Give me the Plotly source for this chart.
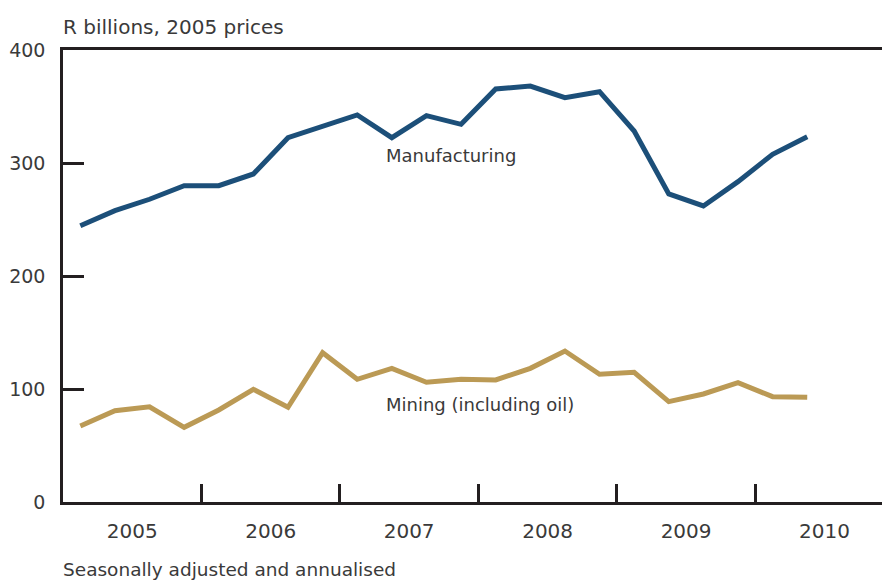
import plotly.graph_objects as go

quarters = ["2005Q1","2005Q2","2005Q3","2005Q4","2006Q1","2006Q2","2006Q3","2006Q4",
            "2007Q1","2007Q2","2007Q3","2007Q4","2008Q1","2008Q2","2008Q3","2008Q4",
            "2009Q1","2009Q2","2009Q3","2009Q4","2010Q1","2010Q2"]
manufacturing = [244.5, 257.8, 267.9, 279.9, 279.9, 290.3, 322.4, 332.2, 342.5, 322.4, 341.9, 334.2,
                 365.5, 368.1, 357.8, 363.1, 328.3, 272.6, 262.0, 283.5, 307.7, 323.3]
mining = [67.3, 80.8, 84.3, 66.1, 81.4, 99.7, 83.8, 132.1, 108.6, 118.3, 105.9, 108.6,
          108.0, 118.3, 133.6, 113.0, 114.8, 88.8, 95.6, 105.6, 93.2, 92.6]
years = ["2005", "2006", "2007", "2008", "2009", "2010"]
y_ticks = [0, 100, 200, 300, 400]

x = list(range(len(quarters)))
year_centers = [4 * i + 1.5 for i in range(len(years))]
year_bounds = [4 * i - 0.5 for i in range(1, len(years))]

FONT = "DejaVu Sans, Verdana, sans-serif"
TXT = "#3a3a3a"
AX = "#231f20"

fig = go.Figure()
fig.add_trace(go.Scatter(x=x, y=manufacturing, mode="lines", name="Manufacturing",
                         line=dict(color="#1c4f79", width=5), showlegend=False))
fig.add_trace(go.Scatter(x=x, y=mining, mode="lines", name="Mining (including oil)",
                         line=dict(color="#bb9a55", width=5), showlegend=False))

fig.update_layout(
    width=882, height=581,
    margin=dict(l=63, r=0, t=50, b=79),
    paper_bgcolor="white", plot_bgcolor="white",
    font=dict(family=FONT, color=TXT, size=18),
    xaxis=dict(
        range=[-0.5, 23.16], showgrid=False, zeroline=False,
        showline=True, linecolor=AX, linewidth=2.5, mirror=True,
        tickvals=year_centers, ticktext=years, ticks="",
        ticklabelstandoff=9,
        tickfont=dict(size=20, color=TXT, family=FONT),
        minor=dict(tickvals=year_bounds, ticks="inside", ticklen=18, tickwidth=2.5, tickcolor=AX),
    ),
    yaxis=dict(
        range=[0, 400], showgrid=False, zeroline=False,
        showline=True, linecolor=AX, linewidth=2.5,
        tickvals=y_ticks, ticks="inside", ticklen=21, tickwidth=2.5, tickcolor=AX,
        ticklabelstandoff=11,
        tickfont=dict(size=19, color=TXT, family=FONT),
    ),
    annotations=[
        dict(text="R billions, 2005 prices", xref="paper", yref="paper", x=0, y=1,
             xanchor="left", yanchor="middle", yshift=23, xshift=-2, showarrow=False,
             font=dict(size=20, color=TXT, family=FONT)),
        dict(text="Seasonally adjusted and annualised", xref="paper", yref="paper", x=0, y=0,
             xanchor="left", yanchor="middle", yshift=-67, xshift=-2, showarrow=False,
             font=dict(size=18.5, color=TXT, family=FONT)),
        dict(text="Manufacturing", xref="x", yref="y", x=8.84, y=307,
             xanchor="left", yanchor="middle", showarrow=False, xshift=-2,
             font=dict(size=18, color=TXT, family=FONT)),
        dict(text="Mining (including oil)", xref="x", yref="y", x=8.84, y=86.5,
             xanchor="left", yanchor="middle", showarrow=False, xshift=-2,
             font=dict(size=18, color=TXT, family=FONT)),
    ],
)

fig.write_html("out.html", config={"displayModeBar": False},
               post_script="document.body.style.margin='0px';")
